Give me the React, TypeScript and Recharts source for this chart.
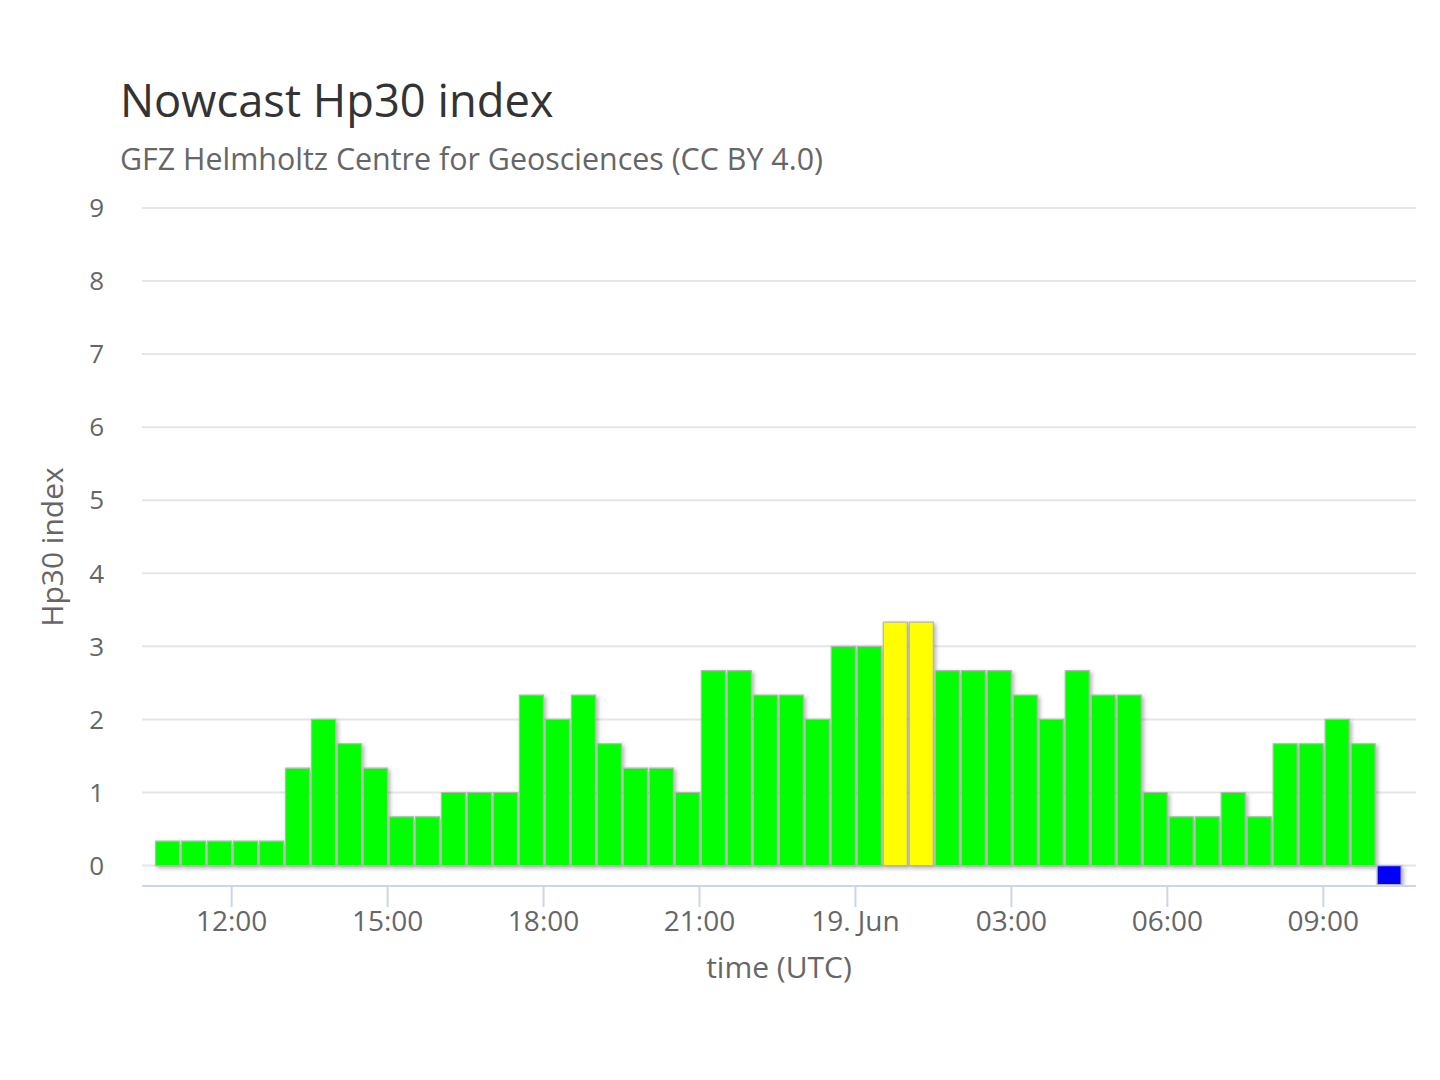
import React from 'react';
import { BarChart, Bar, XAxis, YAxis, CartesianGrid, Cell } from 'recharts';

// 30-minute slots, start of each interval (UTC)
const slotStarts = [
  '18 10:30', '18 11:00', '18 11:30', '18 12:00', '18 12:30', '18 13:00', '18 13:30', '18 14:00',
  '18 14:30', '18 15:00', '18 15:30', '18 16:00', '18 16:30', '18 17:00', '18 17:30', '18 18:00',
  '18 18:30', '18 19:00', '18 19:30', '18 20:00', '18 20:30', '18 21:00', '18 21:30', '18 22:00',
  '18 22:30', '18 23:00', '18 23:30', '19 00:00', '19 00:30', '19 01:00', '19 01:30', '19 02:00',
  '19 02:30', '19 03:00', '19 03:30', '19 04:00', '19 04:30', '19 05:00', '19 05:30', '19 06:00',
  '19 06:30', '19 07:00', '19 07:30', '19 08:00', '19 08:30', '19 09:00', '19 09:30', '19 10:00',
];

const hp30Values = [
  0.333, 0.333, 0.333, 0.333, 0.333, 1.333, 2, 1.667,
  1.333, 0.667, 0.667, 1, 1, 1, 2.333, 2,
  2.333, 1.667, 1.333, 1.333, 1, 2.667, 2.667, 2.333,
  2.333, 2, 3, 3, 3.333, 3.333, 2.667, 2.667,
  2.667, 2.333, 2, 2.667, 2.333, 2.333, 1, 0.667,
  0.667, 1, 0.667, 1.667, 1.667, 2, 1.667, -0.26,
];

const xTicks = ['18 12:00', '18 15:00', '18 18:00', '18 21:00', '19 00:00', '19 03:00', '19 06:00', '19 09:00'];
const xTickLabels = ['12:00', '15:00', '18:00', '21:00', '19. Jun', '03:00', '06:00', '09:00'];
const yTicks = [0, 1, 2, 3, 4, 5, 6, 7, 8, 9];

const toMinutes = (s: string) => {
  const [day, hm] = s.split(' ');
  const [h, m] = hm.split(':').map(Number);
  return (Number(day) - 18) * 1440 + h * 60 + m;
};

const colorFor = (v: number) => (v < 0 ? '#0000ff' : v >= 3.3 ? '#ffff00' : '#00ff00');

const data = slotStarts.map((s, i) => ({ t: toMinutes(s) + 16, hp30: hp30Values[i] }));
const tickMinutes = xTicks.map(toMinutes);

const FONT = '"Open Sans", "DejaVu Sans", sans-serif';

export default function App() {
  return (
    <div style={{ position: 'absolute', left: 0, top: 0, width: 1440, height: 1080, background: '#fff' }}>
      <BarChart
        width={1440}
        height={1080}
        data={data}
        margin={{ top: 208, right: 24, bottom: 134, left: 0 }}
      >
        <CartesianGrid vertical={false} stroke="#e6e6e6" strokeWidth={2} />
        <XAxis
          type="number"
          dataKey="t"
          scale="linear"
          domain={[616.5, 2087]}
          ticks={tickMinutes}
          interval={0}
          allowDataOverflow
          height={60}
          tickFormatter={(v: number) => xTickLabels[tickMinutes.indexOf(v)] ?? ''}
          tick={{ fontSize: 28, fill: '#666666', fontFamily: FONT }}
          tickSize={21}
          tickMargin={4}
          tickLine={{ stroke: '#ccd6eb', strokeWidth: 2 }}
          axisLine={{ stroke: '#ccd6eb', strokeWidth: 2 }}
        />
        <YAxis
          type="number"
          domain={[-0.28, 9]}
          ticks={yTicks}
          interval={0}
          allowDataOverflow
          width={142}
          axisLine={false}
          tickLine={false}
          tickSize={30}
          tickMargin={8}
          tick={{ fontSize: 26, fill: '#666666', fontFamily: FONT }}
        />
        <Bar dataKey="hp30" barSize={24} isAnimationActive={false}>
          {data.map((d, i) => (
            <Cell
              key={i}
              fill={colorFor(d.hp30)}
              stroke="#b5b5b5"
              strokeWidth={1.2}
              style={{ filter: 'drop-shadow(2px 2px 2px rgba(0,0,0,0.3))' }}
            />
          ))}
        </Bar>
      </BarChart>
      <svg
        width={1440}
        height={1080}
        style={{ position: 'absolute', left: 0, top: 0, pointerEvents: 'none' }}
      >
        <text x={120} y={117} fontSize={45.3} fill="#333333" fontFamily={FONT}>
          Nowcast Hp30 index
        </text>
        <text x={120} y={170} fontSize={30.4} fill="#666666" fontFamily={FONT}>
          GFZ Helmholtz Centre for Geosciences (CC BY 4.0)
        </text>
        <text
          x={63}
          y={547}
          fontSize={30}
          fill="#666666"
          fontFamily={FONT}
          textAnchor="middle"
          transform="rotate(-90 63 547)"
        >
          Hp30 index
        </text>
        <text x={779} y={978} fontSize={30} fill="#666666" fontFamily={FONT} textAnchor="middle">
          time (UTC)
        </text>
      </svg>
    </div>
  );
}
